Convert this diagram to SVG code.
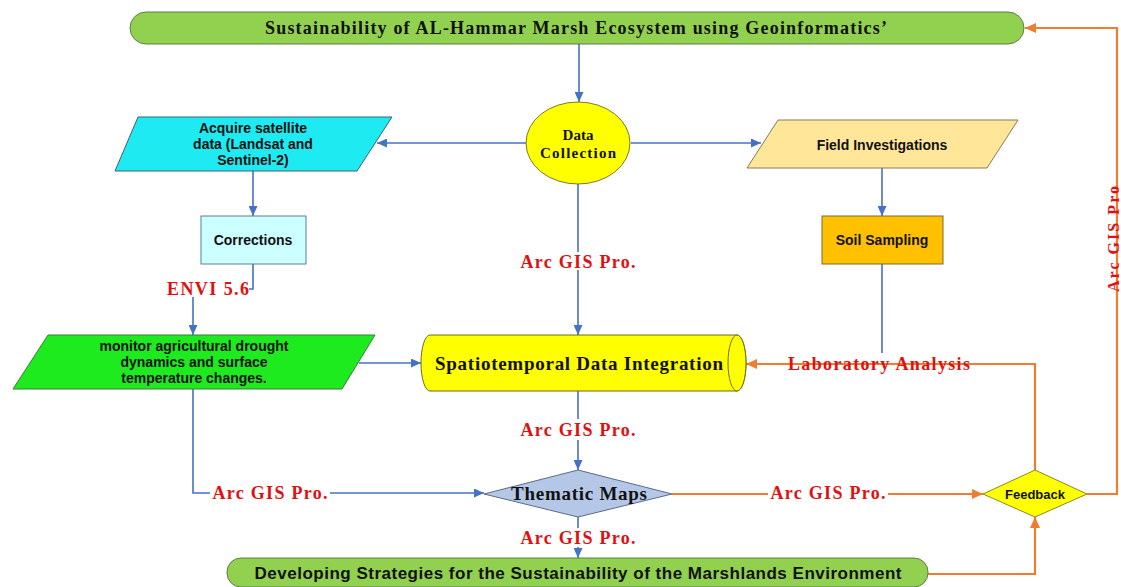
<svg xmlns="http://www.w3.org/2000/svg" width="1121" height="587" viewBox="0 0 1121 587">
<style>
.serif{font-family:"Liberation Serif","Times New Roman",serif;font-weight:bold;fill:#111}
.sans{font-family:"Liberation Sans",Arial,sans-serif;font-weight:bold;fill:#111}
.red{font-family:"Liberation Serif","Times New Roman",serif;font-weight:bold;fill:#E01010;font-size:18px}
.blue{fill:none;stroke:#4472C4;stroke-width:1.6}
.orange{fill:none;stroke:#ED7D31;stroke-width:2.2}
.blueA{marker-end:url(#ab)}
.orangeA{marker-end:url(#ao)}
</style>
<defs>
<marker id="ab" markerUnits="userSpaceOnUse" markerWidth="10" markerHeight="9" refX="10" refY="4.5" orient="auto"><path d="M0,0 L10,4.5 L0,9 z" fill="#4472C4"/></marker>
<marker id="ao" markerUnits="userSpaceOnUse" markerWidth="11" markerHeight="10" refX="11" refY="5" orient="auto"><path d="M0,0 L11,5 L0,10 z" fill="#ED7D31"/></marker>
</defs>
<rect width="1121" height="587" fill="#fff"/>

<g id="connectors">
<path class="blue blueA" d="M579,44 L579,102"/>
<path class="blue blueA" d="M526,143 L377,143"/>
<path class="blue blueA" d="M631,143 L761,143"/>
<path class="blue blueA" d="M253,171 L253,216"/>
<path class="blue" d="M253,264 L253,289 L249,289"/>
<path class="blue blueA" d="M193,297 L193,335"/>
<path class="blue blueA" d="M882,168 L882,216"/>
<path class="blue" d="M882,264 L882,353"/>
<path class="blue" d="M578,184 L578,252"/>
<path class="blue blueA" d="M578,270 L578,335"/>
<path class="blue blueA" d="M359,363 L421,363"/>
<path class="blue" d="M578,391 L578,419"/>
<path class="blue blueA" d="M578,440 L578,470"/>
<path class="blue" d="M193,389 L193,493 L210,493"/>
<path class="blue blueA" d="M330,493 L484,493"/>
<path class="blue" d="M578,517 L578,528"/>
<path class="blue blueA" d="M578,547 L578,558"/>
<path class="orange" d="M672,494 L768,494"/>
<path class="orange orangeA" d="M888,494 L983,494"/>
<path class="orange orangeA" d="M928,574 L1035,574 L1035,517"/>
<path class="orange orangeA" d="M1035,470 L1035,364 L746,364"/>
<path class="orange orangeA" d="M1087,494 L1117,494 L1117,28 L1025,28"/>
</g>

<g id="edge-labels">
<text class="red" x="578" y="268" text-anchor="middle" textLength="115" lengthAdjust="spacing">Arc GIS Pro.</text>
<text class="red" x="208" y="295" text-anchor="middle" textLength="82" lengthAdjust="spacing">ENVI 5.6</text>
<text class="red" x="879" y="370" text-anchor="middle" textLength="182" lengthAdjust="spacing">Laboratory Analysis</text>
<text class="red" x="578" y="436" text-anchor="middle" textLength="115" lengthAdjust="spacing">Arc GIS Pro.</text>
<text class="red" x="270" y="499" text-anchor="middle" textLength="115" lengthAdjust="spacing">Arc GIS Pro.</text>
<text class="red" x="828" y="499" text-anchor="middle" textLength="115" lengthAdjust="spacing">Arc GIS Pro.</text>
<text class="red" x="578" y="544" text-anchor="middle" textLength="115" lengthAdjust="spacing">Arc GIS Pro.</text>
<text class="red" font-size="16" style="font-size:16px" transform="translate(1119,239) rotate(-90)" text-anchor="middle" textLength="106" lengthAdjust="spacing">Arc GIS Pro</text>
</g>

<g id="title">
<rect x="130" y="12" width="894" height="32" rx="16" fill="#92D050" stroke="#5E7F46" stroke-width="1"/>
<text class="serif" x="576" y="34" font-size="18" text-anchor="middle" textLength="622" lengthAdjust="spacing">Sustainability of AL-Hammar Marsh Ecosystem using Geoinformatics’</text>
</g>

<g id="data-collection">
<ellipse cx="578" cy="143" rx="52" ry="41" fill="#FFFF00" stroke="#7F7A2A" stroke-width="1"/>
<text class="serif" x="578" y="140" font-size="15" text-anchor="middle">Data</text>
<text class="serif" x="578" y="158" font-size="15" text-anchor="middle" textLength="76" lengthAdjust="spacing">Collection</text>
</g>

<g id="acquire">
<polygon points="138,117 392,117 357,171 115,171" fill="#1EEAF2" stroke="#3E5F7A" stroke-width="1"/>
<text class="sans" font-size="14" text-anchor="middle"><tspan x="253" y="133">Acquire satellite</tspan><tspan x="253" y="149">data (Landsat and</tspan><tspan x="253" y="165">Sentinel-2)</tspan></text>
</g>

<g id="field">
<polygon points="778,120 1018,120 987,168 747,168" fill="#FFE699" stroke="#857A5A" stroke-width="1"/>
<text class="sans" x="882" y="150" font-size="14" text-anchor="middle">Field Investigations</text>
</g>

<g id="corrections">
<rect x="201" y="216" width="105" height="48" fill="#CCFFFF" stroke="#5B7F8F" stroke-width="1"/>
<text class="sans" x="253" y="245" font-size="14" text-anchor="middle">Corrections</text>
</g>

<g id="soil">
<rect x="822" y="216" width="121" height="48" fill="#FFC000" stroke="#7F6A2A" stroke-width="1"/>
<text class="sans" x="882" y="245" font-size="14" text-anchor="middle">Soil Sampling</text>
</g>

<g id="monitor">
<polygon points="48,335 375,335 342,389 13,389" fill="#1EEB1E" stroke="#3A7A3A" stroke-width="1"/>
<text class="sans" font-size="14" text-anchor="middle"><tspan x="194" y="351">monitor agricultural drought</tspan><tspan x="194" y="367">dynamics and surface</tspan><tspan x="194" y="383">temperature changes.</tspan></text>
</g>

<g id="integration">
<path d="M430,335 L737,335 A9,28 0 0 1 737,391 L430,391 A9,28 0 0 1 430,335 Z" fill="#FFFF00" stroke="#6B6B20" stroke-width="1"/>
<ellipse cx="737" cy="363" rx="9" ry="28" fill="#FFFF00" stroke="#6B6B20" stroke-width="1"/>
<text class="serif" x="579" y="370" font-size="19" text-anchor="middle" textLength="288" lengthAdjust="spacing">Spatiotemporal Data Integration</text>
</g>

<g id="thematic">
<polygon points="484,494 578,470 672,494 578,517" fill="#B4C7E7" stroke="#5A6A8A" stroke-width="1"/>
<text class="serif" x="579" y="500" font-size="19" text-anchor="middle" textLength="136" lengthAdjust="spacing">Thematic Maps</text>
</g>

<g id="feedback">
<polygon points="983,494 1035,470 1087,494 1035,517" fill="#FFFF00" stroke="#8A8A20" stroke-width="1"/>
<text class="sans" x="1035" y="499" font-size="13" text-anchor="middle">Feedback</text>
</g>

<g id="strategies">
<rect x="227" y="558" width="701" height="29" rx="14" fill="#92D050" stroke="#5E7F46" stroke-width="1"/>
<text class="sans" x="578" y="579" font-size="17" text-anchor="middle" textLength="647" lengthAdjust="spacing">Developing Strategies for the Sustainability of the Marshlands Environment</text>
</g>
</svg>
